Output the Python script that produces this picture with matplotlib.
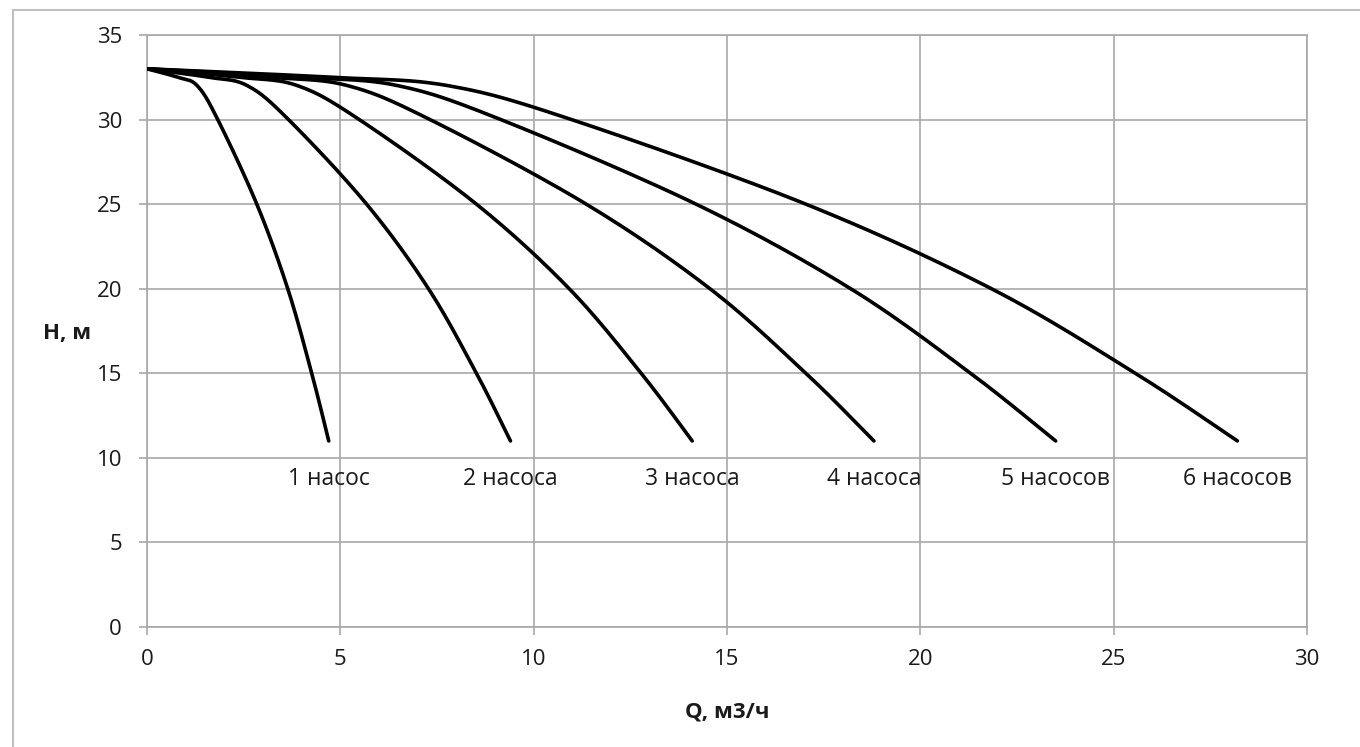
import matplotlib
matplotlib.use("Agg")
import matplotlib.pyplot as plt
from matplotlib.patches import Rectangle
import numpy as np

# head, m (same levels for every curve)
head = [33, 32.5, 32, 30, 25, 20, 15, 11]

# flow, m3/h for 1..6 pumps in parallel
q1 = [0, 0.80, 1.30, 1.83, 2.84, 3.64, 4.26, 4.70]
q2 = [0, 1.60, 2.60, 3.66, 5.68, 7.28, 8.52, 9.40]
q3 = [0, 2.40, 3.90, 5.49, 8.52, 10.92, 12.78, 14.10]
q4 = [0, 3.20, 5.20, 7.32, 11.36, 14.56, 17.04, 18.80]
q5 = [0, 4.00, 6.50, 9.15, 14.20, 18.20, 21.30, 23.50]
q6 = [0, 4.80, 7.80, 10.98, 17.04, 21.84, 25.56, 28.20]

labels = ["1 насос", "2 насоса", "3 насоса", "4 насоса", "5 насосов", "6 насосов"]


def smooth_line(x, y, sx=38.67, sy=16.91, n=24):
    # Excel-style smoothed line (bezier through points), done in screen proportions
    p = np.column_stack([np.asarray(x) * sx, np.asarray(y) * sy])
    out = [p[0]]
    t = np.linspace(0, 1, n)[1:, None]
    for i in range(len(p) - 1):
        p0 = p[max(i - 1, 0)]
        p1, p2 = p[i], p[i + 1]
        p3 = p[min(i + 2, len(p) - 1)]
        c1 = p1 + (p2 - p0) / 6
        c2 = p2 - (p3 - p1) / 6
        seg = ((1 - t) ** 3) * p1 + 3 * ((1 - t) ** 2) * t * c1 + 3 * (1 - t) * t ** 2 * c2 + t ** 3 * p2
        out.extend(seg)
    out = np.array(out)
    return out[:, 0] / sx, out[:, 1] / sy


plt.rcParams["font.family"] = ["Open Sans", "DejaVu Sans"]

fig = plt.figure(figsize=(13.6, 7.47), dpi=100)
ax = fig.add_axes([147 / 1360, 1 - 627 / 747, 1160 / 1360, 592 / 747])

grid_c = "#a8a8a8"
text_c = "#1a1a1a"

for q, lab in zip([q1, q2, q3, q4, q5, q6], labels):
    xs, ys = smooth_line(q, head)
    ax.plot(xs, ys, color="black", lw=2.6, solid_capstyle="round", zorder=3)
    ax.annotate(lab, xy=(q[-1], head[-1]), xytext=(0, -38), textcoords="offset pixels",
                ha="center", va="center", fontsize=16.5, color=text_c)

ax.set_xlim(0, 30)
ax.set_ylim(0, 35)
ax.set_xticks(range(0, 31, 5))
ax.set_yticks(range(0, 36, 5))
ax.grid(True, color=grid_c, lw=1.2)
ax.set_axisbelow(True)
for s in ax.spines.values():
    s.set_color(grid_c)
    s.set_linewidth(1.2)
ax.tick_params(colors=grid_c, labelcolor=text_c, labelsize=16, length=6, width=1.2)
ax.tick_params(axis="y", pad=12)
ax.tick_params(axis="x", pad=10)

fig.text(67 / 1360, 1 - 333 / 747, "H, м", ha="center", va="center",
         fontsize=16, fontweight="bold", color=text_c)
fig.text(727 / 1360, 1 - 712 / 747, "Q, м3/ч", ha="center", va="center",
         fontsize=16, fontweight="bold", color=text_c)

# outer chart frame
fig.patches.append(Rectangle((13 / 1360, -0.05), 1.2, 1 - 10 / 747 + 0.05,
                             transform=fig.transFigure, fill=False,
                             edgecolor="#c0c0c0", lw=1.5))

fig.savefig("out.png", dpi=100)
